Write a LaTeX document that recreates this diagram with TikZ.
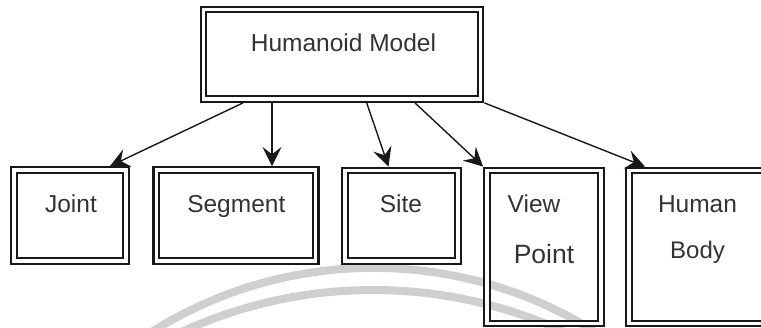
\documentclass[tikz,border=0pt]{standalone}
\usepackage{fontspec}
\setmainfont{Liberation Sans}
\usetikzlibrary{arrows.meta,calc}
\definecolor{ink}{HTML}{181818}
\definecolor{txt}{HTML}{333333}
\definecolor{ring}{HTML}{CFCFCF}
\tikzset{
  dbox/.style={draw=ink, double=white, double distance=3.3pt, line width=2.3pt,
    inner sep=0pt, outer sep=3.9pt},
  lbl/.style={anchor=base, text=txt, inner sep=0pt,
    font=\fontsize{24.5}{29}\selectfont},
  arr/.style={draw=ink, line width=1.4pt,
    -{Stealth[length=19pt,width=19pt,inset=7pt]}},
  ringline/.style={draw=ring, line width=8pt}
}
\begin{document}
\begin{tikzpicture}[x=1pt,y=-1pt]
  \clip (0,0) rectangle (761,327);
  \fill[white] (0,0) rectangle (761,327);

  % faint rings in the background
  \draw[ringline] (373.5,683.4) circle[radius=415.5pt];
  \draw[ringline] (373,746) circle[radius=456pt];

  % boxes
  \node[dbox, minimum width=277pt, minimum height=89.5pt] (model) at (342,54.25) {};
  \node[dbox, minimum width=112pt, minimum height=91pt] (joint) at (70,215.5) {};
  \node[dbox, minimum width=159.5pt, minimum height=91pt] (segment) at (236,215.5) {};
  \node[dbox, minimum width=113pt, minimum height=90.5pt] (site) at (401.5,215.75) {};
  \node[dbox, minimum width=114pt, minimum height=153pt] (view) at (544,247) {};
  \node[dbox, minimum width=137pt, minimum height=153pt] (body) at (697.5,247) {};

  % labels
  \node[lbl] (tmodel) at (343.5,51.7) {Humanoid Model};
  \node[lbl] (tjoint) at (71,212.7) {Joint};
  \node[lbl] (tsegment) at (236.3,212.7) {Segment};
  \node[lbl] (tsite) at (401,212.7) {Site};
  \node[lbl] (tview) at (534,212.7) {View};
  \node[lbl, font=\fontsize{26.5}{31}\selectfont] (tpoint) at (544,263) {Point};
  \node[lbl] (thuman) at (697.5,212.7) {Human};
  \node[lbl, font=\fontsize{24}{29}\selectfont] (tbody) at (697.5,258.5) {Body};

  % connectors
  \draw[arr] ([xshift=-99pt]model.south) -- ([xshift=40pt]joint.north);
  \draw[arr] ([xshift=-70pt]model.south) -- ([xshift=36pt]segment.north);
  \draw[arr] ([xshift=24.7pt]model.south) -- ([xshift=-13pt]site.north);
  \draw[arr] ([xshift=73pt]model.south) -- (view.north west);
  \draw[arr] (model.south east) -- ([xshift=-52.5pt]body.north);
\end{tikzpicture}
\end{document}
